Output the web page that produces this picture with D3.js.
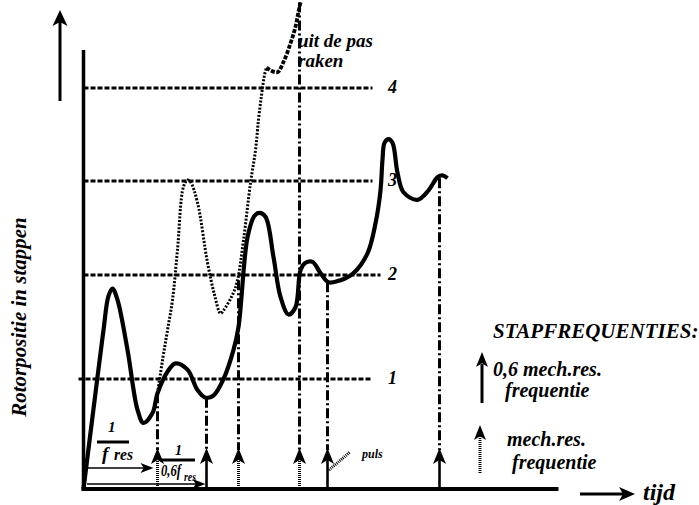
<!DOCTYPE html>
<html>
<head>
<meta charset="utf-8">
<script src="https://cdn.jsdelivr.net/npm/d3@7"></script>
<style>
body { margin: 0; background: #fff; }
svg text { font-family: "Liberation Serif", "Times New Roman", serif; font-weight: bold; font-style: italic; fill: #000; }
</style>
</head>
<body>
<svg id="chart" width="699" height="505"></svg>
<script>
// step levels (rotor position in steps)
var levels = [1, 2, 3, 4];
var levelLabels = ["1", "2", "3", "4"];

// solid curve: step rate 0,6 x mechanical resonance (time, position)
var solidT = [0, 2.8, 4.0, 5.0, 5.8, 6.8, 8.8, 10.8, 12.0, 13.8, 14.8, 16.8, 18.4, 20.8, 22.8, 24.4, 26.0, 28.0,
  30.0, 31.0, 32.8, 34.2, 35.2, 36.4, 38.0, 39.4, 41.0, 42.4, 43.4, 44.4, 45.8, 47.4, 49.0, 51.4, 54.0, 56.8,
  58.4, 59.4, 59.8, 60.2, 61.0, 61.8, 62.8, 64.0, 66.8, 69.0, 70.8, 71.8, 72.8];
var solidP = [0, 1.02, 1.47, 1.80, 1.87, 1.76, 1.28, 0.72, 0.60, 0.69, 0.87, 1.07, 1.15, 1.09, 0.90, 0.83, 0.85, 1.0,
  1.28, 1.50, 2.40, 2.63, 2.66, 2.62, 2.19, 1.79, 1.62, 1.69, 2.05, 2.13, 2.14, 2.02, 1.93, 1.95, 2.02, 2.23,
  2.55, 2.90, 3.23, 3.41, 3.45, 3.41, 3.09, 2.88, 2.80, 2.90, 3.04, 3.06, 3.03];

// dotted curve: step rate = mechanical resonance
var resT = [14.8, 15.8, 16.8, 17.8, 18.8, 20.0, 20.8, 21.4, 22.8, 24.8, 26.2, 27.4, 28.0, 29.8, 30.8, 32.0,
  33.4, 34.4, 35.0, 35.6, 36.2, 36.6];
var resP = [0.87, 1.18, 1.47, 1.76, 2.27, 2.94, 3.01, 2.99, 2.77, 2.13, 1.81, 1.63, 1.66, 1.81, 1.95, 2.37,
  2.98, 3.33, 3.66, 3.92, 4.14, 4.22];

// "uit de pas raken" (losing step)
var lostT = [36.6, 37.4, 38.8, 40.0, 41.4, 42.4, 43.0, 43.4];
var lostP = [4.22, 4.19, 4.17, 4.28, 4.48, 4.66, 4.82, 4.92];

// step pulses
var pulseT = [14.8, 24.6, 31.0, 43.2, 48.8, 71.2];
var pulseTop = [0.87, 0.83, 1.95, 4.92, 1.93, 3.03];
var pulseKind = ["res", "slow", "res", "res", "slow", "slow"];

var svg = d3.select("#chart");
var x = d3.scaleLinear().domain([0, 95]).range([83.5, 558.5]);
var y = d3.scaleLinear().domain([0, 1, 2, 3, 4]).range([489, 379, 275, 181, 88]);
var y0 = y(0);

function head(g, tx, ty, angle, w, h) {
  g.append("path")
    .attr("d", "M0,0L" + w + "," + h + "L0," + (h * 0.75) + "L" + (-w) + "," + h + "Z")
    .attr("transform", "translate(" + tx + "," + ty + ") rotate(" + angle + ")")
    .attr("fill", "#000");
}

// level lines
svg.append("g").selectAll("line").data(levels).enter().append("line")
  .attr("x1", function(d) { return d == 1 ? x(-1) : x(0); })
  .attr("x2", function(d) { return d == 2 ? x(59.4) : x(57.8); })
  .attr("y1", function(d) { return y(d); })
  .attr("y2", function(d) { return y(d); })
  .attr("stroke", "#000").attr("stroke-width", 3).attr("stroke-dasharray", "5,2");

svg.append("g").selectAll("text").data(levels).enter().append("text")
  .attr("x", 388).attr("y", function(d) { return y(d) + 5; })
  .attr("font-size", 18)
  .text(function(d, i) { return levelLabels[i]; });

// pulse lines
var tipY = y0 - 41;
pulseT.forEach(function(t, i) {
  var px = x(t);
  svg.append("line")
    .attr("x1", px).attr("x2", px)
    .attr("y1", y(pulseTop[i])).attr("y2", tipY + 2)
    .attr("stroke", "#000").attr("stroke-width", 3)
    .attr("stroke-dasharray", "10,3,2,3");
  var stem = svg.append("line")
    .attr("x1", px).attr("x2", px)
    .attr("y1", tipY + 11).attr("y2", y0)
    .attr("stroke", "#000");
  if (pulseKind[i] == "res") stem.attr("stroke-width", 3).attr("stroke-dasharray", "1,1");
  else stem.attr("stroke-width", 2.6);
  head(svg, px, tipY, 0, 6.5, 16);
});

// curves
var line = d3.line()
  .x(function(d) { return x(d[0]); })
  .y(function(d) { return y(d[1]); })
  .curve(d3.curveCatmullRom.alpha(0.5));

svg.append("path").datum(d3.zip(resT, resP))
  .attr("d", line).attr("fill", "none")
  .attr("stroke", "#000").attr("stroke-width", 3).attr("stroke-dasharray", "2,1.6");

svg.append("path").datum(d3.zip(lostT, lostP))
  .attr("d", line).attr("fill", "none")
  .attr("stroke", "#000").attr("stroke-width", 3.8).attr("stroke-dasharray", "4,1.5");

svg.append("path").datum(d3.zip(solidT, solidP))
  .attr("d", line).attr("fill", "none")
  .attr("stroke", "#000").attr("stroke-width", 4.2).attr("stroke-linejoin", "round");

// axes
svg.append("line").attr("x1", x(0)).attr("x2", x(0)).attr("y1", 50).attr("y2", y0 + 2)
  .attr("stroke", "#000").attr("stroke-width", 3.5);
svg.append("line").attr("x1", x(0) - 2).attr("x2", x(95)).attr("y1", y0).attr("y2", y0)
  .attr("stroke", "#000").attr("stroke-width", 4);

// free arrows for axes
svg.append("line").attr("x1", 60).attr("x2", 60).attr("y1", 101).attr("y2", 20)
  .attr("stroke", "#000").attr("stroke-width", 3);
head(svg, 60, 10, 0, 7.5, 16);
svg.append("line").attr("x1", 580).attr("x2", 625).attr("y1", 494).attr("y2", 494)
  .attr("stroke", "#000").attr("stroke-width", 3);
head(svg, 635, 494, 90, 7, 16);
svg.append("text").attr("x", 643).attr("y", 500).attr("font-size", 24).text("tijd");

svg.append("text")
  .attr("transform", "translate(26,317) rotate(-90)")
  .attr("text-anchor", "middle").attr("font-size", 21)
  .text("Rotorpositie in stappen");

// period annotations
svg.append("text").attr("x", 108).attr("y", 432).attr("font-size", 15).text("1");
svg.append("line").attr("x1", 97).attr("x2", 129).attr("y1", 442).attr("y2", 442)
  .attr("stroke", "#000").attr("stroke-width", 3);
var fr = svg.append("text").attr("x", 102).attr("y", 460).attr("font-size", 19);
fr.append("tspan").text("f");
fr.append("tspan").attr("x", 114).attr("font-size", 17).attr("textLength", 19).attr("lengthAdjust", "spacingAndGlyphs").text("res");
svg.append("line").attr("x1", 87).attr("x2", 145).attr("y1", 468).attr("y2", 468)
  .attr("stroke", "#000").attr("stroke-width", 1.6);
head(svg, x(pulseT[0]) - 4, 468, 90, 5, 13);

svg.append("text").attr("x", 175).attr("y", 455).attr("font-size", 14).text("1");
svg.append("line").attr("x1", 161).attr("x2", 195).attr("y1", 460).attr("y2", 460)
  .attr("stroke", "#000").attr("stroke-width", 3);
svg.append("text").attr("x", 161).attr("y", 476).attr("font-size", 16)
  .attr("textLength", 20).attr("lengthAdjust", "spacingAndGlyphs").text("0,6f");
svg.append("text").attr("x", 184).attr("y", 481).attr("font-size", 13)
  .attr("textLength", 12).attr("lengthAdjust", "spacingAndGlyphs").text("res");
svg.append("line").attr("x1", 87).attr("x2", 196).attr("y1", 484).attr("y2", 484)
  .attr("stroke", "#000").attr("stroke-width", 1.6);
head(svg, x(pulseT[1]) - 1, 484, 90, 5, 13);

// puls
svg.append("line").attr("x1", 329).attr("x2", 350).attr("y1", 470).attr("y2", 452)
  .attr("stroke", "#000").attr("stroke-width", 3).attr("stroke-dasharray", "1,1");
svg.append("text").attr("x", 362).attr("y", 458).attr("font-size", 12).text("puls");

// uit de pas
svg.append("text").attr("x", 298).attr("y", 47).attr("font-size", 19).text("uit de pas");
svg.append("text").attr("x", 298).attr("y", 67).attr("font-size", 19).text("raken");

// legend
svg.append("text").attr("x", 493).attr("y", 338).attr("font-size", 21).text("STAPFREQUENTIES:");
svg.append("line").attr("x1", 482).attr("x2", 482).attr("y1", 364).attr("y2", 403)
  .attr("stroke", "#000").attr("stroke-width", 3);
head(svg, 482, 352, 0, 6, 15);
svg.append("text").attr("x", 493).attr("y", 376).attr("font-size", 20).text("0,6 mech.res.");
svg.append("text").attr("x", 505).attr("y", 397).attr("font-size", 20).text("frequentie");

svg.append("line").attr("x1", 480).attr("x2", 480).attr("y1", 436).attr("y2", 473)
  .attr("stroke", "#000").attr("stroke-width", 3).attr("stroke-dasharray", "1,1");
head(svg, 480, 425, 0, 6, 15);
svg.append("text").attr("x", 507).attr("y", 446).attr("font-size", 20).text("mech.res.");
svg.append("text").attr("x", 512).attr("y", 469).attr("font-size", 20).text("frequentie");
</script>
</body>
</html>
